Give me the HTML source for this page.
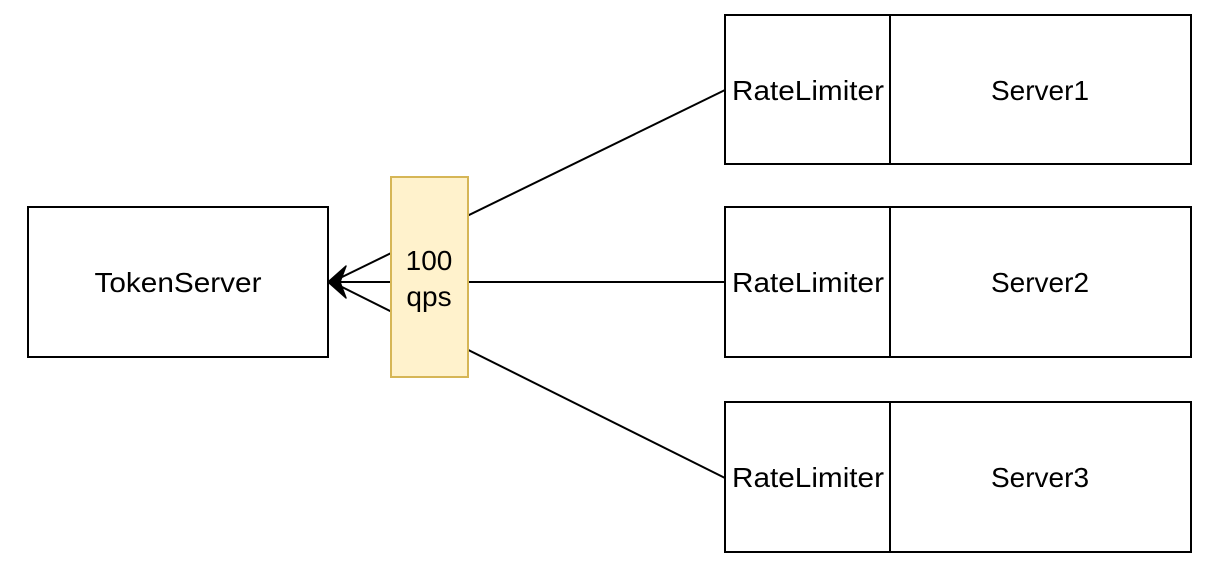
<!DOCTYPE html>
<html><head><style>
body{margin:0;background:#fff;}
svg{display:block;font-family:"Liberation Sans",Helvetica,Arial,sans-serif;}
</style></head><body>
<svg width="1220" height="570" viewBox="0 0 1220 570">
<rect width="1220" height="570" fill="#fff"/>
<g fill="#fff" stroke="#000" stroke-width="2">
<rect x="28" y="207" width="300" height="150"/>
<rect x="725" y="15" width="466" height="149"/>
<rect x="725" y="207" width="466" height="150"/>
<rect x="725" y="402" width="466" height="150"/>
</g>
<g stroke="#000" stroke-width="2">
<line x1="890" y1="15" x2="890" y2="164"/>
<line x1="890" y1="207" x2="890" y2="357"/>
<line x1="890" y1="402" x2="890" y2="552"/>
<line x1="725" y1="90" x2="340" y2="278"/>
<line x1="725" y1="282" x2="340" y2="282"/>
<line x1="725" y1="478" x2="340" y2="286"/>
</g>
<path d="M328 282 L346 266 L340 282 L346 298 Z" fill="#000" stroke="#000" stroke-width="1.5" stroke-linejoin="round"/>
<rect x="391" y="177" width="77" height="200" fill="#fff2cc" stroke="#d6b656" stroke-width="2"/>
<g font-size="28" text-anchor="middle" fill="#000">
<text x="178" y="292" textLength="167" lengthAdjust="spacingAndGlyphs">TokenServer</text>
<text x="429" y="270">100</text>
<text x="429" y="306">qps</text>
<text x="808" y="100" textLength="152" lengthAdjust="spacingAndGlyphs">RateLimiter</text>
<text x="808" y="292" textLength="152" lengthAdjust="spacingAndGlyphs">RateLimiter</text>
<text x="808" y="487" textLength="152" lengthAdjust="spacingAndGlyphs">RateLimiter</text>
<text x="1040" y="100">Server1</text>
<text x="1040" y="292">Server2</text>
<text x="1040" y="487">Server3</text>
</g>
</svg>
</body></html>
